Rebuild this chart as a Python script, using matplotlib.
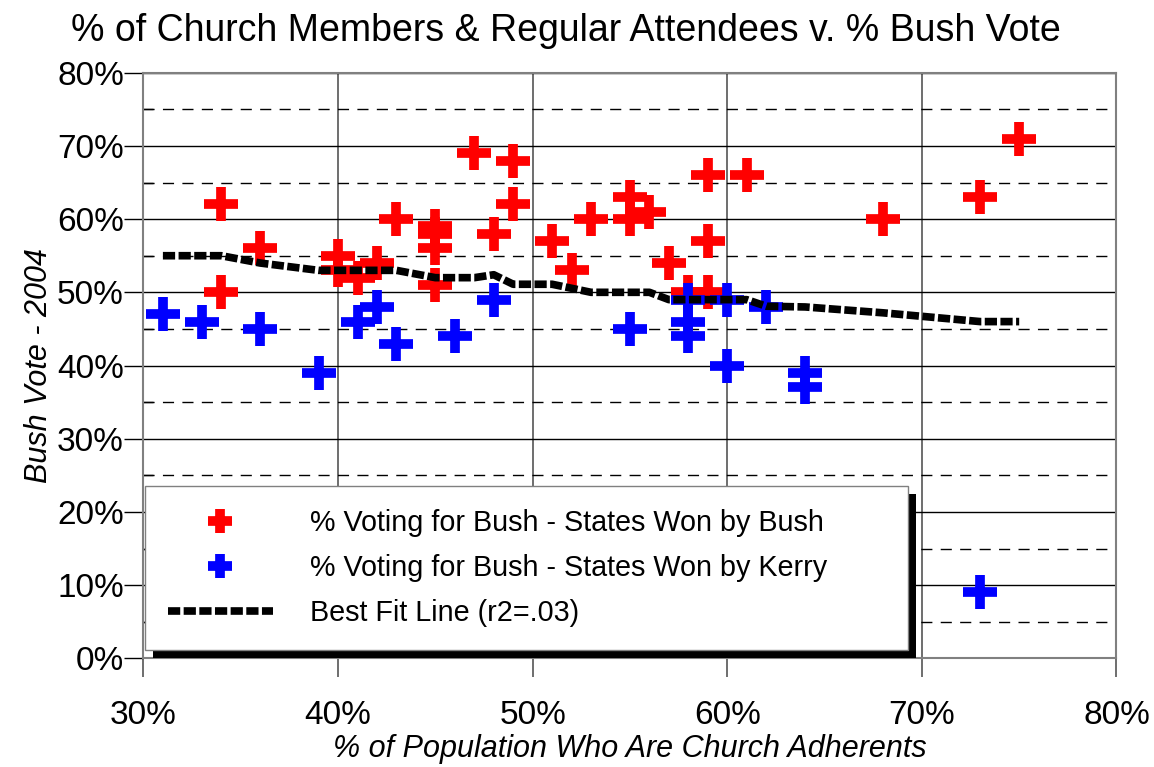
import matplotlib
matplotlib.use("Agg")
import matplotlib.pyplot as plt
from matplotlib.ticker import MultipleLocator, FuncFormatter
import matplotlib.patheffects as pe

plt.rcParams['font.family'] = ['Liberation Sans', 'DejaVu Sans']

# States won by Bush: % church adherents, % Bush vote
bush_x = [34, 34, 36, 40, 40, 41, 42, 43, 45, 45, 45, 45, 47, 48, 49, 49,
          51, 52, 53, 55, 55, 56, 57, 58, 59, 59, 59, 61, 68, 73, 75]
bush_y = [62, 50, 56, 55, 53, 52, 54, 60, 59, 58, 56, 51, 69, 58, 68, 62,
          57, 53, 60, 63, 60, 61, 54, 50, 66, 57, 50, 66, 60, 63, 71]

# States won by Kerry
kerry_x = [31, 33, 36, 39, 41, 42, 43, 46, 48, 55, 58, 58, 58, 60, 60, 62, 64, 64, 73]
kerry_y = [47, 46, 45, 39, 46, 48, 43, 44, 49, 45, 49, 46, 44, 49, 40, 48, 39, 37, 9]

# best fit line (as drawn)
fit_x = [31, 34, 36, 39, 43, 45, 47, 48, 49, 51, 53, 56, 57, 61, 62, 64, 68, 73, 75]
fit_y = [55, 55, 54, 53, 53, 52, 52, 52.4, 51.1, 51.1, 50, 50, 49, 49, 48.1, 48, 47.2, 46, 46]

fig = plt.figure(figsize=(11.54, 7.67), dpi=100)
ax = fig.add_axes([0.1243, 0.1417, 0.8432, 0.7635])

ax.plot(bush_x, bush_y, linestyle='none', marker='+', color='#ff0000',
        markersize=25, markeredgewidth=7, label='% Voting for Bush - States Won by Bush', zorder=3)
ax.plot(kerry_x, kerry_y, linestyle='none', marker='+', color='#0000ff',
        markersize=25, markeredgewidth=7, label='% Voting for Bush - States Won by Kerry', zorder=4)
ax.plot(fit_x, fit_y, color='black', linewidth=5.5, dashes=(1.6, 0.45),
        label='Best Fit Line (r2=.03)', zorder=5)

ax.set_xlim(30, 80)
ax.set_ylim(0, 80)
ax.xaxis.set_major_locator(MultipleLocator(10))
ax.yaxis.set_major_locator(MultipleLocator(10))
ax.yaxis.set_minor_locator(MultipleLocator(5))
pct = FuncFormatter(lambda v, p: f"{v:.0f}%")
ax.xaxis.set_major_formatter(pct)
ax.yaxis.set_major_formatter(pct)

ax.grid(axis='x', which='major', color='#555555', linewidth=1.2, zorder=0)
ax.grid(axis='y', which='major', color='black', linewidth=1.0, zorder=0)
ax.grid(axis='y', which='minor', color='black', linewidth=1.0, linestyle=(0, (8, 6)), zorder=0)
ax.set_axisbelow(True)
for s in ax.spines.values():
    s.set_color('#808080')
    s.set_linewidth(1.5)

ax.tick_params(axis='x', which='major', length=14, width=1.2, color='#555555',
               labelsize=24, pad=16)
ax.tick_params(axis='y', which='major', length=14, width=1.0, color='black',
               labelsize=24, pad=0)
ax.tick_params(axis='y', which='minor', direction='in', length=7, width=1.0, color='black')

ax.set_xlabel('% of Population Who Are Church Adherents', fontsize=22, style='italic', labelpad=2)
ax.set_ylabel('Bush Vote - 2004', fontsize=22, style='italic', labelpad=2)
fig.text(0.49, 0.960, '% of Church Members & Regular Attendees v. % Bush Vote',
         ha='center', va='center', fontsize=27)

leg = ax.legend(loc='lower left', bbox_to_anchor=(0.0015, 0.014, 0.784, 0.27),
                mode='expand', fontsize=20.7,
                frameon=True, fancybox=False, shadow=False, borderpad=0.8,
                labelspacing=0.6, handlelength=3.65, handletextpad=1.3,
                borderaxespad=0.0, markerscale=0.7)
frame = leg.get_frame()
frame.set_edgecolor('#808080')
frame.set_linewidth(1.0)
frame.set_alpha(1)
frame.set_path_effects([pe.SimplePatchShadow(offset=(6, -6), shadow_rgbFace='black', alpha=1),
                        pe.Normal()])
leg.set_zorder(10)

fig.savefig('out.png', dpi=100)
